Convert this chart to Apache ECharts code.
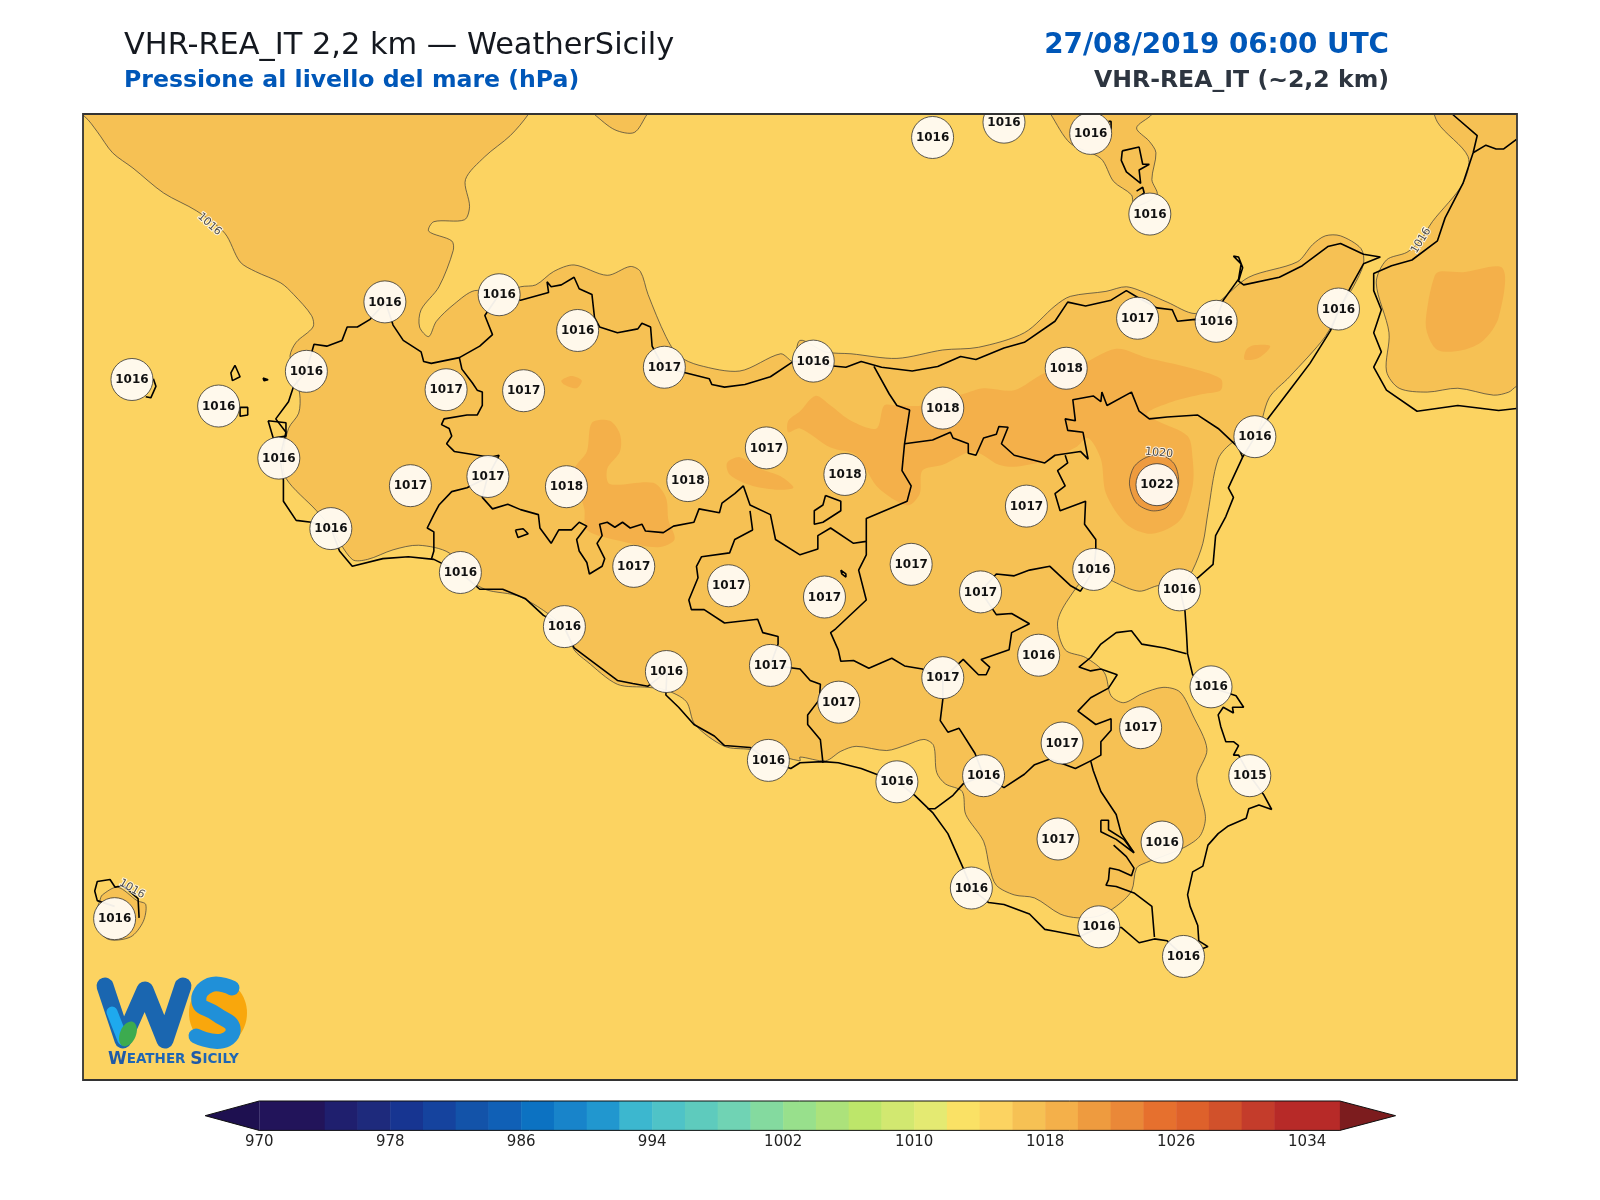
<!DOCTYPE html>
<html>
<head>
<meta charset="utf-8">
<title>Pressione al livello del mare</title>
<script src="https://cdn.jsdelivr.net/npm/echarts@6/dist/echarts.min.js"></script>
<style>html,body{margin:0;background:#fff}</style>
</head>
<body>
<div id="chart" style="width:1600px;height:1200px"></div>
<script>
// traced points are read per quadrant of the picture, q() puts them in map units
var q = function (col, row, pts) {
  return pts.map(function (p) { return [col * 784 + p[0] / 2, row * 588 + p[1] / 2.667]; });
};

// stations: map x, map y, hPa
var stations = [
  [129,372,1016],[214,398,1016],[300,364,1016],[377,296,1016],[489,289,1016],[566,324,1016],[651,360,1017],[797,354,1016],
  [914,135,1016],[984,120,1016],[1069,131,1016],[1127,210,1016],[1115,312,1017],[1192,315,1016],[1312,303,1016],[1045,361,1018],
  [924,400,1018],[437,382,1017],[513,383,1017],[273,449,1016],[402,476,1017],[478,467,1017],[555,477,1018],[674,471,1018],
  [751,439,1017],[828,465,1018],[324,518,1016],[1230,428,1016],[1134,475,1022],[1006,496,1017],[451,561,1016],[621,555,1017],
  [714,574,1017],[808,585,1017],[893,553,1017],[961,580,1017],[1072,558,1016],[1156,578,1016],[553,614,1016],[653,658,1016],
  [755,652,1017],[822,688,1017],[924,664,1017],[1018,642,1016],[1187,673,1016],[1118,713,1017],[1041,728,1017],[753,745,1016],
  [879,766,1016],[964,760,1016],[1225,760,1015],[1037,822,1017],[1139,825,1016],[952,870,1016],[1077,908,1016],[1160,937,1016],
  [112,900,1016]
];

// contour labels: map x, map y, hPa, angle
var contourLabels = [[205,220,1016,-42],[1393,236,1016,58],[1136,444,1020,-6],[129,871,1016,-30]];

// colour bar
var levelEdges = [970,974,976,978,980,982,984,986,988,990,992,994,996,998,1000,1002,1004,1006,1008,1010,1012,1014,1016,1018,1020,1022,1024,1026,1028,1030,1032,1036];
var levelColors = ['#22145a','#1f1f6e','#1e2a7c','#173591','#15439e','#1353a9','#1060b6','#0c72c2','#1884ca','#2197cf','#3cb7cf','#4fc3c7','#5ecbbd','#70d3b4','#84da9f','#98e08c','#ace27b','#bde66a','#d2e870','#e4ea72','#fae165','#fcd361','#f6c154','#f4b04a','#ee9b3f','#ea8838','#e6702e','#de612b','#d1512b','#c43c2b','#b72a28'];
var under = '#1e1050', over = '#7c1c1e';

// 1016 hPa areas
var low1016Main = [].concat(
  q(0,0,[[100,250],[165,305],[190,345],[220,400],[260,440],[320,505],[385,552],[440,610],[470,685],[500,710],[550,740],[575,770],[610,825],[613,855],[580,895],[568,930],[575,970],[587,1030],[585,1080],[565,1120],[555,1190],[560,1250],[620,1335],[648,1380],[690,1462],[720,1462],[770,1437],[820,1425],[880,1445],[903,1497],[950,1540],[1020,1560]]),
  q(0,1,[[1105,70],[1125,130],[1150,160],[1210,220],[1270,228],[1305,235],[1345,265],[1362,325],[1420,382],[1470,390],[1510,400],[1568,420]]),
  q(1,1,[[0,410],[50,420],[80,395],[110,382],[170,393],[210,378],[243,364],[262,380],[268,450],[285,480],[318,500],[325,560],[360,630],[372,700],[385,745],[420,770],[460,778],[510,820],[545,830],[586,825],[620,800],[650,760],[660,700],[680,685],[710,670],[755,645],[785,615],[795,565],[778,465],[798,390],[770,300],[745,240],[712,228],[670,245],[635,268],[610,250],[597,190],[560,150],[520,130],[505,60],[525,0]]),
  q(1,0,[[576,1490],[615,1520],[665,1545],[705,1530],[745,1540],[770,1490],[790,1420],[800,1340],[820,1200],[850,1155],[893,1140],[920,1040],[960,985],[1030,880],[1057,810],[1085,750],[1105,690],[1100,650],[1060,617],[1030,617],[1005,640],[975,685],[880,725],[820,790],[775,820],[720,790],[685,770],[640,750],[600,762],[530,775],[500,800],[440,870],[350,908],[280,915],[190,937],[100,925],[50,920],[0,890]]),
  q(0,0,[[1555,945],[1530,925],[1450,970],[1370,955],[1330,930],[1305,880],[1270,770],[1255,710],[1235,697],[1190,720],[1125,693],[1085,710],[1050,745],[1020,750],[980,770],[930,760],[890,795],[855,840],[840,880],[822,855],[825,810],[860,750],[888,655],[885,630],[840,605],[850,580],[910,575],[920,540],[912,470],[950,410],[1000,355],[1035,300],[1050,260]])
);
var low1016Notch = q(0,0,[[1140,270],[1165,300],[1205,340],[1243,347],[1268,300],[1285,270]]);
var low1016Strait = q(1,0,[[480,270],[492,300],[530,375],[590,415],[615,475],[650,510],[655,540],[700,510],[690,470],[698,400],[685,370],[660,335],[690,300],[700,270]]);
var low1016Calabria = q(1,0,[[1245,260],[1250,320],[1310,410],[1300,480],[1240,580],[1216,630],[1190,660],[1150,680],[1130,740],[1155,870],[1150,970],[1175,1015],[1230,1025],[1290,1015],[1360,1033],[1390,1025],[1405,1010],[1430,1000],[1430,260]]);
var low1016Ustica = q(0,1,[[200,770],[230,750],[268,785],[285,795],[280,840],[255,880],[210,885],[185,835],[195,785]]);

// 1018 hPa areas
var mid1018Spot = q(0,0,[[1100,995],[1120,983],[1140,995],[1130,1015],[1105,1005]]);
var mid1018West = q(0,0,[[1160,1105],[1195,1100],[1215,1135],[1215,1180],[1190,1225],[1195,1265],[1280,1262],[1305,1300],[1310,1360],[1322,1410],[1290,1430],[1220,1415],[1150,1385],[1145,1330],[1125,1230],[1150,1180]]);
var mid1018Streak = q(0,0,[[1425,1210],[1450,1195],[1490,1225],[1530,1245],[1555,1275],[1520,1280],[1470,1268],[1430,1240]]);
var mid1018Centre = [].concat(
  q(0,0,[[1545,1130],[1545,1100],[1568,1075]]),
  q(1,0,[[30,1035],[60,1060],[100,1100],[150,1120],[165,1060],[190,1060],[240,1060],[320,1030],[360,1015],[420,1020],[480,975],[540,960],[620,912],[680,935],[760,960],[825,990],[825,1020],[790,1030],[730,1050],[680,1080],[700,1100],[760,1140],[770,1200],[770,1270],[745,1360],[690,1395],[640,1370],[600,1290],[590,1200],[565,1145],[540,1170],[480,1205],[420,1220],[390,1215],[340,1180],[280,1215],[240,1230],[235,1290],[215,1320],[190,1310],[150,1270],[110,1190],[60,1170],[0,1120]])
);
var mid1018Etna = q(1,0,[[875,915],[890,903],[922,905],[900,935],[872,940]]);
var mid1018Calabria = q(1,0,[[1255,710],[1300,712],[1378,702],[1370,830],[1340,890],[1300,915],[1250,915],[1228,860],[1232,790],[1245,720]]);

// 1020 hPa area
var high1020 = q(1,0,[[680,1195],[710,1190],[735,1215],[742,1265],[720,1325],[690,1335],[660,1315],[646,1265],[655,1220]]);

// coast of the main island, clockwise from the west
var coastSicily = [].concat(
  q(0,0,[[610,1365],[580,1360],[555,1310],[555,1255],[548,1197],[560,1130],[540,1095],[565,1050],[575,1010],[600,970],[615,900],[640,905],[670,890],[680,855],[700,855],[725,835],[755,790],[770,850],[790,890],[825,920],[830,945],[845,950],[900,935],[940,905],[965,875],[950,825],[978,770],[1020,785],[1075,765],[1072,737],[1080,750],[1100,745],[1125,725],[1135,755],[1160,770],[1165,830],[1175,855],[1210,870],[1250,860],[1258,845],[1275,855],[1278,905],[1300,960],[1345,975],[1390,990],[1395,1005],[1420,1012],[1460,1005],[1510,985],[1555,945]]),
  q(1,0,[[28,945],[50,955],[90,960],[120,945],[160,960],[220,970],[270,958],[315,932],[345,940],[400,910],[440,895],[500,840],[525,790],[560,800],[610,785],[640,760],[665,780],[700,805],[730,810],[740,840],[775,835],[815,840],[830,785],[860,730],[865,690],[850,670],[860,672],[868,700],[860,735],[870,745],[940,725],[985,695],[1035,645],[1060,637],[1105,665],[1138,672],[1105,690],[1080,750],[1057,810],[1040,865],[1000,950],[960,1020],[920,1090],[893,1140],[868,1195],[840,1275],[850,1300],[835,1350],[815,1400],[810,1475],[780,1510],[745,1540]]),
  q(1,1,[[755,30],[758,90],[760,140],[770,195],[805,228],[855,250],[870,280],[848,280],[850,295],[830,280],[820,300],[825,330],[835,370],[850,370],[860,380],[850,405],[860,405],[883,460],[910,510],[925,547],[900,535],[880,545],[875,570],[840,590],[820,610],[800,640],[790,695],[770,710],[760,770],[765,800],[780,850],[782,890],[800,905],[752,930],[720,890],[695,885],[665,895],[630,855],[586,855],[550,878],[500,865],[480,860],[450,820],[400,795],[370,790],[337,755],[320,700],[290,610],[260,555],[225,510],[191,475],[160,460],[120,440],[75,425],[45,422],[0,425]]),
  q(0,1,[[1568,430],[1550,440],[1507,420],[1470,385],[1420,380],[1400,355],[1360,325],[1330,280],[1305,248],[1307,187],[1270,225],[1240,218],[1210,210],[1170,170],[1125,125],[1105,70],[1065,40]]),
  q(0,0,[[1030,1565],[985,1540],[940,1540],[903,1497],[850,1462],[800,1455],[750,1460],[690,1480],[665,1440],[648,1380],[610,1365]])
);
var coastCalabria = q(1,0,[[1280,300],[1328,355],[1320,400],[1300,480],[1265,570],[1250,630],[1200,680],[1160,695],[1125,715],[1125,760],[1140,810],[1125,870],[1140,920],[1125,960],[1150,1020],[1210,1075],[1290,1060],[1370,1073],[1405,1068]]);
var coastCalabriaIn = q(1,0,[[1320,400],[1345,380],[1365,390],[1380,390],[1405,365]]);

// province borders
var borderTrapani = q(0,0,[[900,935],[905,965],[925,1000],[935,1020],[945,1025],[945,1060],[935,1085],[915,1085],[870,1095],[865,1110],[880,1120],[885,1140],[875,1160],[890,1180],[960,1195],[978,1190],[955,1248],[915,1275],[885,1285],[860,1320],[850,1345],[837,1380],[850,1390],[850,1440],[845,1462]]);
var borderPalermo = [].concat(
  q(0,0,[[955,1248],[945,1300],[965,1330],[995,1318],[1020,1332],[1055,1345],[1058,1380],[1080,1420],[1095,1385],[1120,1385],[1135,1365],[1150,1375],[1130,1410],[1135,1440],[1150,1470],[1155,1500],[1180,1480],[1185,1460],[1170,1420],[1180,1400],[1175,1370],[1190,1365],[1205,1378],[1220,1365],[1235,1380],[1258,1370],[1265,1388],[1300,1392],[1320,1375],[1360,1365],[1370,1330],[1410,1340],[1415,1315],[1440,1290],[1457,1270],[1470,1320],[1510,1345],[1520,1410],[1568,1450]]),
  q(1,0,[[35,1435],[35,1400],[60,1380],[105,1420],[130,1415],[130,1355],[210,1310],[218,1270],[200,1230],[205,1160],[215,1072],[190,1060],[175,1030],[145,958]])
);
var borderAgrigento = [].concat(
  q(0,0,[[1470,1335],[1475,1385],[1440,1410],[1430,1445],[1375,1455],[1365,1480],[1368,1510],[1350,1568]]),
  q(0,1,[[1355,25],[1380,25],[1420,60],[1485,50],[1495,85],[1525,95],[1525,115],[1510,170],[1568,180]]),
  q(1,1,[[20,210],[40,220],[38,260],[15,300],[15,325],[40,365],[45,425]])
);
var borderEnna = [].concat(
  q(1,0,[[130,1415],[130,1450],[115,1490],[130,1568]]),
  q(1,1,[[70,75],[60,85],[75,130],[80,160],[105,158],[135,178],[180,152],[205,172],[240,180],[280,205],[320,155],[350,195],[365,195],[372,175],[355,155],[410,130],[415,85],[450,62],[415,35],[385,38]]),
  q(1,0,[[354,1545],[385,1500],[420,1505],[450,1490],[490,1480],[530,1530],[550,1545],[576,1490]])
);
var borderMessina = q(1,0,[[205,1160],[260,1150],[295,1130],[300,1145],[330,1160],[330,1185],[345,1190],[360,1145],[385,1135],[390,1115],[408,1117],[395,1160],[420,1190],[480,1210],[500,1190],[550,1180],[565,1200],[555,1130],[525,1125],[520,1095],[540,1100],[535,1045],[575,1035],[590,1050],[592,1025],[602,1060],[650,1025],[665,1075],[685,1095],[720,1090],[780,1085],[820,1120],[860,1170],[868,1195]]);
var borderCatania = q(1,0,[[520,1190],[525,1210],[505,1230],[520,1270],[500,1290],[510,1335],[560,1310],[558,1370],[580,1410],[580,1440],[576,1490]]);
var borderSiracusa = q(1,1,[[758,140],[715,125],[670,115],[650,80],[620,85],[590,115],[570,150],[547,175],[570,185],[590,180],[622,195],[605,230],[570,255],[545,290],[580,325],[610,310],[610,340],[590,370],[590,405],[570,420],[575,445],[590,500],[620,560],[630,610],[655,660]]);
var borderRagusa = q(1,1,[[570,420],[540,440],[490,415],[460,430],[440,455],[400,490],[360,458],[320,480],[300,510],[265,545],[250,545]]);
var borderCaltanissetta = q(1,1,[[280,205],[280,260],[275,315],[290,345],[312,335],[343,400],[360,458]]);
var lagoon = q(1,1,[[590,575],[605,575],[605,600],[635,625],[655,660],[620,625],[590,605],[590,575]]);
var borderSouth = q(1,1,[[615,640],[640,670],[655,700],[650,720],[625,705],[607,700],[605,730],[600,745],[620,748],[655,765],[690,800],[695,880]]);
var enclaveA = q(0,0,[[1010,1385],[1025,1382],[1035,1395],[1015,1405],[1010,1385]]);
var enclaveB = q(1,0,[[50,1295],[80,1310],[80,1335],[45,1365],[28,1370],[28,1335],[45,1320],[50,1295]]);
var enclaveC = q(1,0,[[80,1490],[90,1500],[90,1508],[82,1500],[80,1490]]);

// islands
var isleLevanzo = q(0,0,[[460,955],[470,985],[455,995],[452,975],[460,955]]);
var isleFormica = q(0,0,[[515,988],[525,993],[517,995],[515,988]]);
var isleFavignana = q(0,0,[[470,1065],[485,1065],[485,1085],[470,1088],[470,1065]]);
var isleMarettimo = q(0,0,[[300,990],[305,1010],[295,1040],[285,1037]]);
var isleStagnone = q(0,0,[[525,1100],[560,1105],[560,1140],[535,1145],[525,1100]]);
var isleUstica = q(0,1,[[224,800],[190,785],[185,760],[190,735],[215,730],[225,750],[240,745],[270,780],[272,830]]);
var isleVulcano = q(1,0,[[632,395],[665,385],[672,430],[685,430],[665,445],[668,480],[640,450],[630,420],[632,395]]);
var isleLipari = q(1,0,[[660,500],[672,490],[675,505],[655,525]]);
var isleSmall = q(1,0,[[605,318],[610,318],[610,340]]);

var bands = [
  {pts: low1016Main, fill: '#f6c154', line: true},
  {pts: low1016Notch, fill: '#f6c154', line: true},
  {pts: low1016Strait, fill: '#f6c154', line: true},
  {pts: low1016Calabria, fill: '#f6c154', line: true},
  {pts: low1016Ustica, fill: '#f6c154', line: true},
  {pts: mid1018Spot, fill: '#f4b04a'},
  {pts: mid1018West, fill: '#f4b04a'},
  {pts: mid1018Streak, fill: '#f4b04a'},
  {pts: mid1018Centre, fill: '#f4b04a'},
  {pts: mid1018Etna, fill: '#f4b04a'},
  {pts: mid1018Calabria, fill: '#f4b04a'},
  {pts: high1020, fill: '#ee9b3f', line: true}
];

var blackLines = [coastSicily, coastCalabria, coastCalabriaIn, borderTrapani, borderPalermo, borderAgrigento, borderEnna, borderMessina,
  borderCatania, borderSiracusa, borderRagusa, borderCaltanissetta, lagoon, borderSouth, enclaveA, enclaveB, enclaveC,
  isleLevanzo, isleFormica, isleFavignana, isleMarettimo, isleStagnone, isleUstica, isleVulcano, isleLipari, isleSmall];

var font = '"DejaVu Sans", sans-serif';
var chart = echarts.init(document.getElementById('chart'));

var series = [];
series.push({
  type: 'custom', xAxisIndex: 0, yAxisIndex: 0, clip: true, silent: true, z: 2,
  data: bands.map(function (b, i) { return [i]; }),
  renderItem: function (params, api) {
    var b = bands[params.dataIndex];
    return {
      type: 'polygon',
      shape: {points: b.pts.map(function (p) { return api.coord(p); }), smooth: 0.3},
      style: {fill: b.fill, stroke: b.line ? '#3a3a3a' : null, lineWidth: b.line ? 0.7 : 0}
    };
  }
});
blackLines.forEach(function (pts) {
  series.push({
    type: 'line', xAxisIndex: 0, yAxisIndex: 0, data: pts, symbol: 'none', silent: true, z: 3, clip: true,
    lineStyle: {color: '#000', width: 1.6}
  });
});
series.push({
  type: 'scatter', xAxisIndex: 0, yAxisIndex: 0, symbolSize: 0, silent: true, z: 4, data: contourLabels,
  label: {
    show: true, position: 'inside', fontFamily: font, fontSize: 11, color: '#222', textBorderColor: '#fff', textBorderWidth: 2,
    formatter: function (p) { return p.value[2]; }
  },
  labelLayout: function (p) { return {rotate: contourLabels[p.dataIndex][3]}; }
});
series.push({
  type: 'custom', xAxisIndex: 0, yAxisIndex: 0, clip: true, silent: true, z: 5,
  data: stations,
  renderItem: function (params, api) {
    var c = api.coord([api.value(0), api.value(1)]);
    return {
      type: 'group',
      children: [
        {type: 'circle', shape: {cx: c[0], cy: c[1], r: 21}, style: {fill: 'rgba(255,251,243,0.95)', stroke: '#333', lineWidth: 0.8}},
        {type: 'text', style: {text: String(api.value(2)), x: c[0], y: c[1] + 0.5, align: 'center', verticalAlign: 'middle', font: 'bold 12px ' + font, fill: '#111'}}
      ]
    };
  }
});
// colour bar
series.push({
  type: 'custom', xAxisIndex: 1, yAxisIndex: 1, clip: false, silent: true, z: 2,
  data: levelColors.map(function (c, i) { return [levelEdges[i], levelEdges[i + 1]]; }),
  renderItem: function (params, api) {
    var a = api.coord([api.value(0), 1]), b = api.coord([api.value(1), 0]);
    return {type: 'rect', shape: {x: a[0], y: a[1], width: b[0] - a[0] + 0.5, height: b[1] - a[1]}, style: {fill: levelColors[params.dataIndex]}};
  }
});
series.push({
  type: 'custom', xAxisIndex: 1, yAxisIndex: 1, clip: false, silent: true, z: 3,
  data: [[970, 966.7], [1036, 1039.4]],
  renderItem: function (params, api) {
    var base = api.value(0), tip = api.value(1);
    return {
      type: 'polygon',
      shape: {points: [api.coord([base, 1]), api.coord([tip, 0.5]), api.coord([base, 0])]},
      style: {fill: params.dataIndex ? over : under}
    };
  }
});
series.push({
  type: 'line', xAxisIndex: 1, yAxisIndex: 1, symbol: 'none', silent: true, z: 4, clip: false,
  data: [[966.7, 0.5], [970, 1], [1036, 1], [1039.4, 0.5], [1036, 0], [970, 0], [966.7, 0.5]],
  lineStyle: {color: '#111', width: 1}
});

chart.setOption({
  animation: false,
  backgroundColor: '#fff',
  title: [
    {text: 'VHR-REA_IT 2,2 km \u2014 WeatherSicily', left: 124, top: 31, padding: 0, textStyle: {fontFamily: font, fontSize: 30.4, fontWeight: 'normal', color: '#14181f'}},
    {text: 'Pressione al livello del mare (hPa)', left: 124, top: 69, padding: 0, textStyle: {fontFamily: font, fontSize: 23.6, fontWeight: 'bold', color: '#0057b8'}},
    {text: '27/08/2019 06:00 UTC', right: 211, top: 32, padding: 0, textStyle: {fontFamily: font, fontSize: 27.8, fontWeight: 'bold', color: '#0057b8'}},
    {text: 'VHR-REA_IT (~2,2 km)', right: 211, top: 69, padding: 0, textStyle: {fontFamily: font, fontSize: 23.6, fontWeight: 'bold', color: '#2d3540'}}
  ],
  grid: [
    {left: 83, top: 114, width: 1434, height: 966, show: true, backgroundColor: '#fcd361', borderWidth: 0},
    {left: 128.2, top: 1101, width: 1342.7, height: 29.4}
  ],
  xAxis: [
    {gridIndex: 0, type: 'value', min: 81, max: 1487, show: false},
    {gridIndex: 1, type: 'value', min: 962, max: 1044, interval: 8, axisLine: {show: false}, axisTick: {show: false}, splitLine: {show: false},
      axisLabel: {margin: 4, fontFamily: font, fontSize: 15, color: '#222', formatter: function (v) { return v < 970 || v > 1034 ? '' : v; }}}
  ],
  yAxis: [
    {gridIndex: 0, type: 'value', min: 112, max: 1058, inverse: true, show: false},
    {gridIndex: 1, type: 'value', min: 0, max: 1, show: false}
  ],
  graphic: [
    {type: 'rect', z: 100, silent: true, shape: {x: 83, y: 114, width: 1434, height: 966}, style: {fill: 'none', stroke: '#333', lineWidth: 1.8}},
    // logo, bottom left of the map
    {type: 'group', z: 90, silent: true, children: [
      {type: 'ellipse', shape: {cx: 218, cy: 1013, rx: 29, ry: 33}, style: {fill: '#f9a70c'}},
      {type: 'polyline', shape: {points: [[105, 986], [123, 1040], [145, 990], [165, 1040], [183, 986]]}, style: {fill: 'none', stroke: '#1a66b0', lineWidth: 17, lineCap: 'round', lineJoin: 'round'}},
      {type: 'polyline', shape: {points: [[112, 1012], [123, 1040]]}, style: {fill: 'none', stroke: '#1ea9ee', lineWidth: 11, lineCap: 'round'}},
      {type: 'ellipse', shape: {cx: 128, cy: 1034, rx: 8, ry: 13}, style: {fill: '#3cab4f'}, rotation: -0.4, originX: 128, originY: 1034},
      {type: 'polyline', shape: {points: [[232, 988], [210, 985], [199, 1002], [216, 1014], [233, 1028], [222, 1041], [196, 1036]], smooth: 0.5}, style: {fill: 'none', stroke: '#2090d8', lineWidth: 15, lineCap: 'round'}},
      {type: 'text', x: 108, y: 1051, style: {
        text: '{a|W}{b|EATHER }{a|S}{b|ICILY}',
        rich: {a: {font: 'bold 17px ' + font, fill: '#1f5aa8'}, b: {font: 'bold 13.5px ' + font, fill: '#1f66b4'}}
      }}
    ]}
  ],
  series: series
});
</script>
</body>
</html>
